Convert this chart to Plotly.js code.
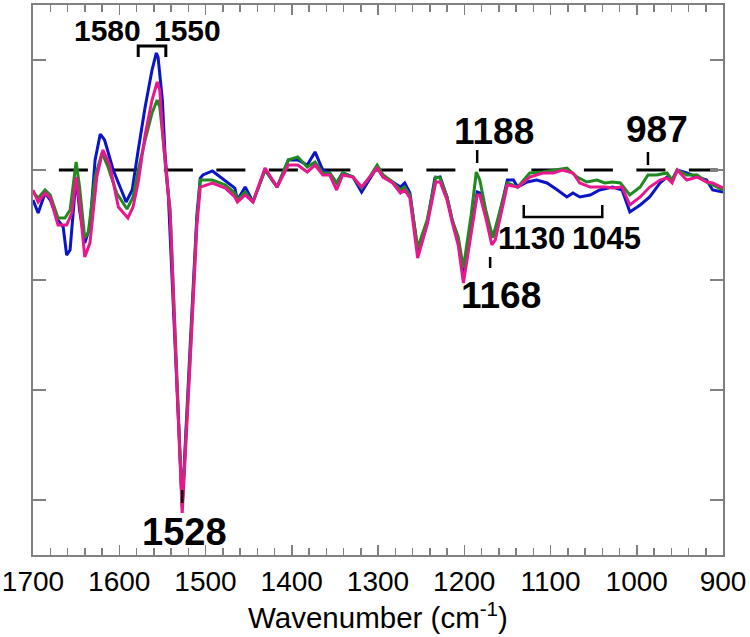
<!DOCTYPE html>
<html>
<head>
<meta charset="utf-8">
<script src="https://cdn.plot.ly/plotly-3.0.1.min.js"></script>
<style>
  html, body { margin: 0; padding: 0; background: #fff; }
  #chart { width: 750px; height: 637px; }
</style>
</head>
<body>
<div id="chart"></div>
<script>
// Difference spectra, three samples

const blueWn = [1700, 1694, 1686, 1680, 1671, 1665, 1661, 1657, 1650, 1646, 1640, 1634, 1628, 1622, 1617, 1607,
  1592, 1585, 1578, 1570, 1562, 1557, 1555, 1550, 1547, 1543, 1535, 1527, 1518, 1510, 1506, 1503, 1492, 1481,
  1466, 1463, 1454, 1445, 1431, 1417, 1404, 1393, 1382, 1373, 1364, 1356, 1348, 1341, 1329, 1319, 1312, 1301,
  1294, 1283, 1274, 1269, 1263, 1254, 1243, 1234, 1228, 1220, 1214, 1207, 1201, 1192, 1185, 1182, 1175, 1167,
  1162, 1150, 1143, 1138, 1127, 1116, 1104, 1092, 1081, 1074, 1066, 1054, 1043, 1028, 1017, 1008, 996, 985,
  973, 965, 959, 953, 942, 930, 919, 912, 900];
const blueAbs = [-0.273, -0.391, -0.209, -0.273, -0.455, -0.518, -0.773, -0.727, -0.064, -0.364, -0.664, -0.518,
  0.091, 0.327, 0.273, 0.0, -0.291, -0.182, 0.182, 0.573, 0.909, 1.064, 1.027, 0.636, 0.155, -0.245, -1.636,
  -3.045, -1.636, -0.409, -0.073, -0.045, -0.009, -0.073, -0.164, -0.273, -0.155, -0.291, 0.0, -0.155, 0.091,
  0.091, 0.045, 0.164, 0.0, -0.027, -0.118, -0.027, -0.064, -0.2, -0.109, 0.027, -0.064, -0.109, -0.155, -0.118,
  -0.209, -0.727, -0.482, -0.073, -0.064, -0.245, -0.455, -0.636, -0.982, -0.564, -0.2, -0.209, -0.409, -0.609,
  -0.5, -0.091, -0.091, -0.155, -0.109, -0.091, -0.118, -0.182, -0.245, -0.209, -0.245, -0.227, -0.182, -0.155,
  -0.182, -0.382, -0.318, -0.245, -0.118, -0.064, -0.091, 0.0, -0.027, -0.064, -0.091, -0.182, -0.2];

const greenWn = [1700, 1694, 1686, 1680, 1671, 1663, 1657, 1650, 1646, 1640, 1636, 1628, 1620, 1613, 1603, 1591,
  1584, 1578, 1570, 1562, 1556, 1553, 1549, 1545, 1541, 1534, 1527, 1518, 1510, 1506, 1492, 1477, 1466, 1463,
  1454, 1445, 1431, 1417, 1404, 1393, 1382, 1373, 1364, 1356, 1348, 1341, 1329, 1319, 1312, 1301, 1294, 1283,
  1274, 1269, 1263, 1254, 1243, 1233, 1228, 1220, 1214, 1207, 1201, 1192, 1186, 1182, 1175, 1167, 1162, 1150,
  1138, 1124, 1109, 1092, 1081, 1069, 1058, 1046, 1037, 1028, 1019, 1008, 996, 987, 977, 965, 959, 953, 942,
  930, 919, 912, 900];
const greenAbs = [-0.2, -0.255, -0.182, -0.227, -0.436, -0.436, -0.364, 0.073, -0.155, -0.618, -0.573, -0.064,
  0.155, 0.027, -0.209, -0.355, -0.245, 0.0, 0.273, 0.518, 0.636, 0.573, 0.273, -0.091, -0.364, -1.727, -3.073,
  -1.727, -0.455, -0.091, -0.091, -0.136, -0.209, -0.273, -0.2, -0.291, 0.0, -0.155, 0.091, 0.118, 0.027, 0.073,
  -0.027, -0.027, -0.118, -0.027, -0.064, -0.164, -0.091, 0.045, -0.045, -0.109, -0.182, -0.155, -0.227, -0.709,
  -0.455, -0.064, -0.073, -0.245, -0.455, -0.609, -0.891, -0.409, -0.018, -0.091, -0.364, -0.618, -0.473, -0.118,
  -0.155, -0.027, -0.018, 0.0, 0.018, -0.064, -0.109, -0.091, -0.118, -0.109, -0.118, -0.227, -0.155, -0.045,
  -0.045, -0.027, -0.091, 0.0, -0.045, -0.045, -0.109, -0.136, -0.182];

const pinkWn = [1700, 1694, 1686, 1680, 1671, 1661, 1655, 1650, 1646, 1640, 1634, 1626, 1619, 1611, 1601, 1590,
  1584, 1578, 1570, 1562, 1556, 1553, 1549, 1545, 1541, 1534, 1527, 1518, 1510, 1506, 1492, 1477, 1466, 1463,
  1454, 1445, 1431, 1417, 1404, 1393, 1382, 1373, 1364, 1356, 1348, 1341, 1329, 1319, 1312, 1301, 1294, 1283,
  1274, 1269, 1263, 1254, 1243, 1233, 1228, 1220, 1214, 1207, 1201, 1192, 1185, 1182, 1175, 1168, 1164, 1150,
  1138, 1124, 1109, 1097, 1086, 1074, 1066, 1054, 1037, 1028, 1017, 1008, 996, 985, 973, 965, 959, 953, 942,
  930, 919, 912, 903, 900];
const pinkAbs = [-0.182, -0.291, -0.209, -0.255, -0.5, -0.5, -0.391, -0.064, -0.3, -0.791, -0.664, -0.064, 0.182,
  0.045, -0.336, -0.436, -0.336, -0.109, 0.318, 0.636, 0.8, 0.727, 0.273, -0.091, -0.391, -1.773, -3.118, -1.773,
  -0.5, -0.155, -0.118, -0.164, -0.245, -0.291, -0.227, -0.291, 0.018, -0.155, 0.045, 0.045, -0.018, 0.045,
  -0.045, -0.045, -0.182, -0.045, -0.064, -0.155, -0.091, 0.018, -0.064, -0.118, -0.209, -0.182, -0.255, -0.8,
  -0.5, -0.109, -0.109, -0.273, -0.473, -0.682, -1.027, -0.591, -0.227, -0.227, -0.436, -0.682, -0.636, -0.136,
  -0.155, -0.064, -0.027, -0.027, 0.0, -0.027, -0.118, -0.155, -0.155, -0.164, -0.155, -0.318, -0.245, -0.155,
  -0.091, -0.073, -0.118, 0.0, -0.091, -0.064, -0.109, -0.118, -0.155, -0.164];

const xTicks = [1700, 1600, 1500, 1400, 1300, 1200, 1100, 1000, 900];

// band labels: text, wavenumber, height
const bandText = ['1580', '1550', '1188', '987', '1130', '1045', '1168', '1528'];
const bandX = [1614, 1521, 1166, 976, 1122, 1035, 1157, 1524];
const bandY = [1.266, 1.266, 0.348, 0.364, -0.627, -0.627, -1.144, -3.288];
const bandSize = [30, 30, 37, 37, 31, 31, 37, 38];

const LINE_W = 3;

const traces = [
  { x: blueWn, y: blueAbs, type: 'scatter', mode: 'lines',
    line: { color: '#0a14c8', width: LINE_W }, hoverinfo: 'skip' },
  { x: greenWn, y: greenAbs, type: 'scatter', mode: 'lines',
    line: { color: '#1f8a1f', width: LINE_W }, hoverinfo: 'skip' },
  { x: pinkWn, y: pinkAbs, type: 'scatter', mode: 'lines',
    line: { color: '#e8188c', width: LINE_W }, hoverinfo: 'skip' }
];

function vline(x, y0, y1) {
  return { type: 'line', xref: 'x', yref: 'y', x0: x, x1: x, y0: y0, y1: y1,
    line: { color: '#000', width: 2.5 }, layer: 'above' };
}

const shapes = [
  // dashed zero line
  { type: 'line', xref: 'x', yref: 'y', x0: 1670, x1: 900, y0: 0, y1: 0,
    line: { color: '#000', width: 3, dash: '29px,23.5px' }, layer: 'below' },
  vline(1185, 0.064, 0.182),
  vline(987, 0.045, 0.164),
  vline(1170, -0.791, -0.891),
  vline(1527, -2.909, -3.027),
  { type: 'path', xref: 'x', yref: 'y',
    path: 'M 1578 1.027 L 1578 1.127 L 1546 1.127 L 1546 1.027',
    line: { color: '#000', width: 3 } },
  { type: 'path', xref: 'x', yref: 'y',
    path: 'M 1131 -0.318 L 1131 -0.427 L 1040 -0.427 L 1040 -0.318',
    line: { color: '#000', width: 2.5 } }
];

const annotations = bandText.map((t, i) => ({
  text: '<b>' + t + '</b>', x: bandX[i], y: bandY[i], xref: 'x', yref: 'y',
  showarrow: false, xanchor: 'center', yanchor: 'middle',
  font: { family: 'Liberation Sans, Arial, sans-serif', size: bandSize[i], color: '#000' }
}));

const axisColor = '#808080';

const layout = {
  width: 750, height: 637,
  paper_bgcolor: '#fff', plot_bgcolor: '#fff',
  margin: { l: 33, r: 27, t: 5, b: 82 },
  showlegend: false,
  font: { family: 'Liberation Sans, Arial, sans-serif', color: '#000' },
  xaxis: {
    range: [1700, 900],
    tickvals: xTicks,
    ticktext: xTicks.map(String),
    ticklabeloverflow: 'allow',
    ticks: 'inside', ticklen: 10, tickwidth: 1.5, tickcolor: axisColor,
    minor: { dtick: 20, tick0: 900, ticks: 'inside', ticklen: 7, tickwidth: 1.5, tickcolor: axisColor },
    showline: true, linecolor: axisColor, linewidth: 2, mirror: 'allticks',
    showgrid: false, zeroline: false,
    tickfont: { size: 28, color: '#000' },
    title: { text: 'Wavenumber (cm<sup>-1</sup>)', font: { size: 29.5, color: '#000' }, standoff: 10 }
  },
  yaxis: {
    range: [-3.5, 1.5],
    dtick: 1, tick0: 0,
    ticks: 'inside', ticklen: 13, tickwidth: 1.5, tickcolor: axisColor,
    showticklabels: false,
    showline: true, linecolor: axisColor, linewidth: 2, mirror: 'allticks',
    showgrid: false, zeroline: false
  },
  shapes: shapes,
  annotations: annotations
};

Plotly.newPlot('chart', traces, layout, { displayModeBar: false, staticPlot: true });
</script>
</body>
</html>
